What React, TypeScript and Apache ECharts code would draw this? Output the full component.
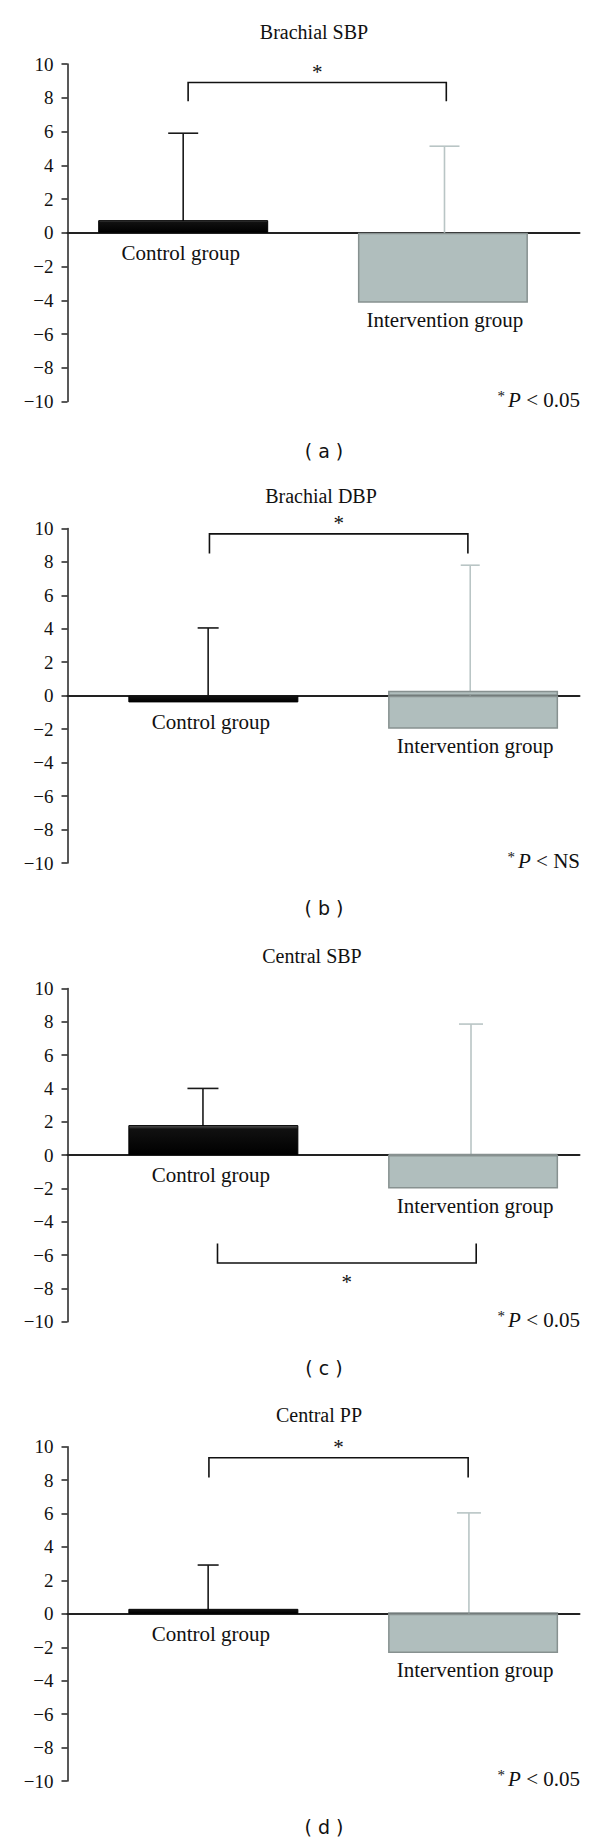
import React, { useEffect, useRef } from 'react';
import * as echarts from 'echarts';

// ---------------- data ----------------
const categories = ['Control group', 'Intervention group'];
const panelTitles = ['Brachial SBP', 'Brachial DBP', 'Central SBP', 'Central PP'];
const panelLetters = ['a', 'b', 'c', 'd'];
const pValueTexts = ['< 0.05', '< NS', '< 0.05', '< 0.05'];

const controlMean = [0.75, -0.4, 1.8, 0.3];
const interventionMean = [-4.14, -1.97, -2.0, -2.34];
const interventionUpperEdge = [0, 0.3, 0.06, 0.1];
const controlErrorTop = [5.9, 4.05, 4.0, 2.92];
const interventionErrorTop = [5.13, 7.8, 7.86, 6.04];

const bracketLevel = [8.9, 9.67, -6.47, 9.34];
const bracketLegEnd = [7.8, 8.5, -5.3, 8.16];
const bracketLeft = [1.019, 0.985, 1.016, 0.983];
const bracketRight = [2.013, 1.98, 2.012, 1.981];

const controlErrorShift = [0, -0.02, -0.04, -0.02];
const interventionErrorShift = [0.006, -0.011, -0.008, -0.016];

const yMin = -10;
const yMax = 10;
const yInterval = 2;
const yTickValues = [10, 8, 6, 4, 2, 0, -2, -4, -6, -8, -10];

// ---------------- layout ----------------
const gridTops = [64, 528.4, 988.4, 1446.7];
const gridHeights = [337.6, 334.6, 333.4, 334.3];
const xRanges = [
  [0.5546, 2.5258],
  [0.4385, 2.4097],
  [0.4385, 2.4097],
  [0.4385, 2.4097],
];
const titleX = [314, 321, 312, 319];
const captionY = [451, 908, 1368, 1827];
const controlCap = [30, 21, 31, 21];
const interventionCap = [30, 19, 24, 24];

const SERIF = 'Liberation Serif';
const SANS = 'DejaVu Sans';
const INK = '#1a1a1a';
const GREY_FILL = '#b0bebd';
const GREY_EDGE = '#879190';
const GREY_ERR = '#b9c5c5';

const minusFmt = (v: number) => (v < 0 ? '\u2212' + Math.abs(v) : String(v));

function buildOption() {
  const grid: any[] = [];
  const xAxis: any[] = [];
  const yAxis: any[] = [];
  const series: any[] = [];
  const graphic: any[] = [];

  const controlStyle = {
    color: {
      type: 'linear', x: 0, y: 0, x2: 0, y2: 1,
      colorStops: [
        { offset: 0, color: '#5a5a5a' },
        { offset: 0.12, color: '#111' },
        { offset: 1, color: '#000' },
      ],
    },
    borderColor: '#000',
    borderWidth: 1,
  };
  const interventionStyle = {
    color: GREY_FILL,
    borderColor: GREY_EDGE,
    borderWidth: 1.5,
  };

  for (let i = 0; i < 4; i++) {
    grid.push({ left: 67.5, width: 512, top: gridTops[i], height: gridHeights[i] });
    xAxis.push({
      type: 'value',
      gridIndex: i,
      min: xRanges[i][0],
      max: xRanges[i][1],
      axisLine: { show: true, onZero: true, lineStyle: { color: '#222', width: 2 } },
      axisTick: { show: false },
      axisLabel: { show: false },
      splitLine: { show: false },
    });
    yAxis.push({
      type: 'value',
      gridIndex: i,
      min: yMin,
      max: yMax,
      interval: yInterval,
      axisLine: { show: true, onZero: false, lineStyle: { color: '#222', width: 1.5 } },
      axisTick: { show: true, inside: false, length: 6, lineStyle: { color: '#222', width: 1.5 } },
      axisLabel: { show: false },
      splitLine: { show: false },
    });

    // y tick labels placed through the y scale
    series.push({
      type: 'custom',
      name: 'yticks-' + i,
      xAxisIndex: i,
      yAxisIndex: i,
      z: 4,
      silent: true,
      clip: false,
      data: yTickValues.map((v) => [xRanges[i][0], v]),
      renderItem: (params: any, api: any) => {
        const p = api.coord([api.value(0), api.value(1)]);
        return {
          type: 'text',
          x: p[0] - 14,
          y: p[1],
          style: {
            text: minusFmt(api.value(1)),
            fontFamily: SERIF,
            fontSize: 19,
            fill: '#111',
            align: 'right',
            verticalAlign: 'middle',
          },
        };
      },
    });

    const errSeries = (x: number, top: number, cap: number, color: string, name: string) => ({
      type: 'custom',
      name,
      xAxisIndex: i,
      yAxisIndex: i,
      z: 1,
      silent: true,
      data: [[x, top, cap]],
      renderItem: (params: any, api: any) => {
        const xv = api.value(0);
        const tv = api.value(1);
        const c = api.value(2);
        const p0 = api.coord([xv, 0]);
        const p1 = api.coord([xv, tv]);
        const st = { stroke: color, lineWidth: 1.6 };
        return {
          type: 'group',
          children: [
            { type: 'line', shape: { x1: p0[0], y1: p0[1], x2: p1[0], y2: p1[1] }, style: st },
            { type: 'line', shape: { x1: p1[0] - c / 2, y1: p1[1], x2: p1[0] + c / 2, y2: p1[1] }, style: st },
          ],
        };
      },
    });
    series.push(errSeries(1 + controlErrorShift[i], controlErrorTop[i], controlCap[i], INK, 'err-control-' + i));
    series.push(
      errSeries(2 + interventionErrorShift[i], interventionErrorTop[i], interventionCap[i], GREY_ERR, 'err-intervention-' + i)
    );

    series.push({
      type: 'bar',
      name: 'mean-' + i,
      xAxisIndex: i,
      yAxisIndex: i,
      stack: 'panel' + i,
      barWidth: 170,
      z: 3,
      silent: true,
      data: [
        { value: [1, controlMean[i]], itemStyle: controlStyle },
        { value: [2, interventionMean[i]], itemStyle: interventionStyle },
      ],
    });
    series.push({
      type: 'bar',
      name: 'upper-' + i,
      xAxisIndex: i,
      yAxisIndex: i,
      stack: 'panel' + i,
      barWidth: 170,
      z: 3,
      silent: true,
      data: [
        { value: [1, 0], itemStyle: { color: 'rgba(0,0,0,0)', borderWidth: 0 } },
        {
          value: [2, interventionUpperEdge[i]],
          itemStyle:
            interventionUpperEdge[i] > 0
              ? interventionStyle
              : { color: 'rgba(0,0,0,0)', borderWidth: 0 },
        },
      ],
    });

    series.push({
      type: 'custom',
      name: 'labels-' + i,
      xAxisIndex: i,
      yAxisIndex: i,
      z: 4,
      silent: true,
      data: [
        [1, controlMean[i], 0],
        [2, interventionMean[i], 1],
      ],
      renderItem: (params: any, api: any) => {
        const xv = api.value(0);
        const v = api.value(1);
        const k = api.value(2);
        const p = api.coord([xv, Math.min(v, 0)]);
        return {
          type: 'text',
          x: p[0] + (k === 0 ? -2.5 : 2),
          y: p[1] + (k === 0 ? 20 : 17.5),
          style: {
            text: categories[k],
            fontFamily: SERIF,
            fontSize: 21,
            fill: '#111',
            align: 'center',
            verticalAlign: 'middle',
          },
        };
      },
    });

    series.push({
      type: 'custom',
      name: 'bracket-' + i,
      xAxisIndex: i,
      yAxisIndex: i,
      z: 4,
      silent: true,
      data: [[bracketLeft[i], bracketRight[i], bracketLevel[i], bracketLegEnd[i]]],
      encode: { x: [0, 1], y: [2, 3] },
      renderItem: (params: any, api: any) => {
        const l = api.value(0);
        const r = api.value(1);
        const lv = api.value(2);
        const le = api.value(3);
        const pts = [
          api.coord([l, le]),
          api.coord([l, lv]),
          api.coord([r, lv]),
          api.coord([r, le]),
        ];
        const mid = api.coord([(l + r) / 2, lv]);
        return {
          type: 'group',
          children: [
            { type: 'polyline', shape: { points: pts }, style: { stroke: '#111', lineWidth: 1.6, fill: 'none' } },
            {
              type: 'text',
              x: mid[0],
              y: mid[1] + (lv > 0 ? -11 : 19),
              style: {
                text: '*',
                fontFamily: SERIF,
                fontSize: 21,
                fill: '#111',
                align: 'center',
                verticalAlign: 'middle',
              },
            },
          ],
        };
      },
    });

    const gridBottom = gridTops[i] + gridHeights[i];
    graphic.push({
      type: 'text',
      x: titleX[i],
      y: gridTops[i] - 32,
      silent: true,
      style: {
        text: panelTitles[i],
        fontFamily: SERIF,
        fontSize: 20,
        fill: '#111',
        align: 'center',
        verticalAlign: 'middle',
      },
    });
    graphic.push({
      type: 'text',
      x: 580,
      y: gridBottom - 2,
      silent: true,
      style: {
        text: '{s|*}{i|P} ' + pValueTexts[i],
        fontFamily: SERIF,
        fontSize: 21,
        fill: '#111',
        align: 'right',
        verticalAlign: 'middle',
        rich: {
          s: { fontFamily: SERIF, fontSize: 15, fill: '#111', verticalAlign: 'top', padding: [0, 3, 8, 0] },
          i: { fontFamily: SERIF, fontSize: 21, fontStyle: 'italic', fill: '#111' },
        },
      },
    });
    graphic.push({
      type: 'text',
      x: 324,
      y: captionY[i],
      silent: true,
      style: {
        text: '( ' + panelLetters[i] + ' )',
        fontFamily: SANS,
        fontSize: 19,
        fill: '#111',
        align: 'center',
        verticalAlign: 'middle',
      },
    });
  }

  return {
    animation: false,
    backgroundColor: '#ffffff',
    grid,
    xAxis,
    yAxis,
    series,
    graphic,
  };
}

export default function App() {
  const ref = useRef<HTMLDivElement>(null);
  useEffect(() => {
    document.body.style.margin = '0';
    const chart = echarts.init(ref.current as HTMLDivElement, null, { renderer: 'svg' });
    chart.setOption(buildOption() as any);
    return () => {
      chart.dispose();
    };
  }, []);
  return <div ref={ref} style={{ width: 600, height: 1845, position: 'absolute', left: 0, top: 0 }} />;
}
